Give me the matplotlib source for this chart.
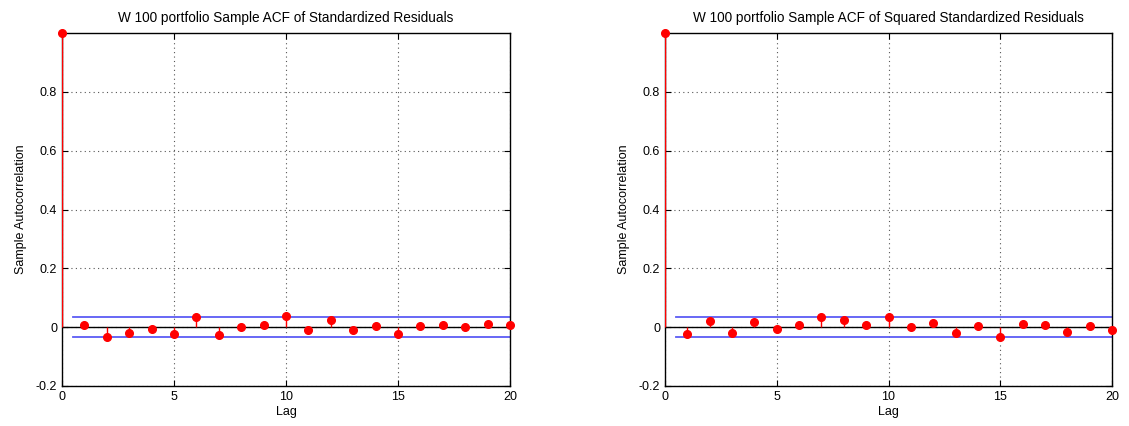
import numpy as np
import matplotlib
matplotlib.use("Agg")
import matplotlib.pyplot as plt

plt.rcParams['font.family'] = ['Liberation Sans', 'DejaVu Sans']

lags = np.arange(0, 21)
acf_resid = [1.0, 0.006, -0.032, -0.020, -0.007, -0.024, 0.035, -0.028, -0.001,
             0.008, 0.037, -0.011, 0.026, -0.008, 0.005, -0.023, 0.005, 0.006,
             0.000, 0.011, 0.008]
acf_sq_resid = [1.0, -0.024, 0.021, -0.020, 0.018, -0.005, 0.007, 0.033, 0.025,
                0.006, 0.036, 0.002, 0.015, -0.020, 0.003, -0.032, 0.010, 0.007,
                -0.017, 0.003, -0.009]
conf_bound = 0.0335
titles = ["W 100 portfolio Sample ACF of Standardized Residuals",
          "W 100 portfolio Sample ACF of Squared Standardized Residuals"]
yticks = [-0.2, 0, 0.2, 0.4, 0.6, 0.8]
xticks = [0, 5, 10, 15, 20]

fig = plt.figure(figsize=(11.29, 4.26), dpi=100)
axes_pos = [[0.0549, 0.0939, 0.3968, 0.8286],
            [0.5890, 0.0939, 0.3960, 0.8286]]


def draw_acf(ax, vals, title):
    vals = np.asarray(vals)
    ax.axhline(0, color='black', lw=1.0, zorder=2)
    ax.plot([0.5, 20], [conf_bound, conf_bound], color='#5c5cf5', lw=1.3, zorder=2)
    ax.plot([0.5, 20], [-conf_bound, -conf_bound], color='#5c5cf5', lw=1.3, zorder=2)
    ax.vlines(lags, 0, vals, colors='red', lw=1.0, zorder=3)
    ax.plot(lags, vals, 'o', color='red', ms=5.5, zorder=4, clip_on=False)
    ax.set_xlim(0, 20)
    ax.set_ylim(-0.2, 1.0)
    ax.set_xticks(xticks)
    ax.set_yticks(yticks)
    ax.set_yticklabels(['-0.2', '0', '0.2', '0.4', '0.6', '0.8'])
    ax.grid(True, linestyle=(0, (1, 3)), color='#555555', lw=0.8)
    ax.tick_params(direction='in', length=4, labelsize=9, width=0.8,
                   top=True, right=True)
    for sp in ax.spines.values():
        sp.set_linewidth(1.0)
    ax.set_title(title, fontsize=9.8, pad=8)
    ax.set_xlabel('Lag', fontsize=9, labelpad=2)
    ax.set_ylabel('Sample Autocorrelation', fontsize=9, labelpad=6)


for pos, vals, title in zip(axes_pos, [acf_resid, acf_sq_resid], titles):
    ax = fig.add_axes(pos)
    draw_acf(ax, vals, title)

fig.savefig('out.png', dpi=100)
